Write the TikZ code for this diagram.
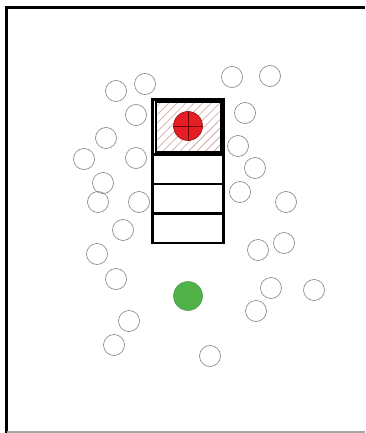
\documentclass[tikz,border=0pt]{standalone}
\usetikzlibrary{positioning,patterns.meta}
\definecolor{seatred}{RGB}{228,30,36}
\definecolor{seatgreen}{RGB}{80,178,72}
\tikzset{
    seat/.style={circle, draw=black!50, line width=0.6pt, minimum size=21pt, inner sep=0pt},
    cellbox/.style={draw, line width=2.2pt, minimum width=71pt, inner sep=0pt, outer sep=0pt},
}
\begin{document}
\begin{tikzpicture}[x=1pt, y=-1pt]
    \useasboundingbox (0,0) rectangle (365,433);
    \draw[line width=2.6pt] (6.5,433) -- (6.5,7.5) -- (365,7.5);
    \draw[gray!70, line width=1.4pt] (6.5,432) -- (365,432);
    \foreach \x/\y [count=\n] in {116/91, 145/84, 232/77, 270/76, 136/115, 245/113,
        106/138, 238/146, 84/159, 136/158, 255/168, 103/183, 98/202, 139/202,
        240/192, 286/202, 123/230, 97/254, 258/250, 284/243, 116/279, 271/288,
        314/290, 256/311, 129/321, 114/345, 210/356}{
        \node[seat] (s\n) at (\x,\y) {};
    }
    \node[cellbox, minimum height=55pt, anchor=north] (cell1) at (188,99.5) {};
    \node[cellbox, minimum height=29.5pt, below=0pt of cell1] (cell2) {};
    \node[cellbox, minimum height=29.5pt, below=0pt of cell2] (cell3) {};
    \node[cellbox, minimum height=29.5pt, below=0pt of cell3] (cell4) {};
    \node[draw, line width=2pt, minimum width=65pt, minimum height=49pt, inner sep=0pt,
        pattern={Lines[angle=45, distance=6pt, line width=0.6pt]}, pattern color=red!35!gray!60]
        (goal) at (cell1.center) {};
    \node[circle, fill=seatred, draw=red!55!black, line width=0.5pt, minimum size=29pt, inner sep=0pt]
        (start) at (188,126) {};
    \draw[red!45!black, line width=0.5pt] (start.west) -- (start.east);
    \draw[red!45!black, line width=0.5pt] (start.north) -- (start.south);
    \node[circle, fill=seatgreen, draw=green!40!black!70, line width=0.5pt, minimum size=29pt, inner sep=0pt]
        (stop) at (188,296) {};
\end{tikzpicture}
\end{document}
